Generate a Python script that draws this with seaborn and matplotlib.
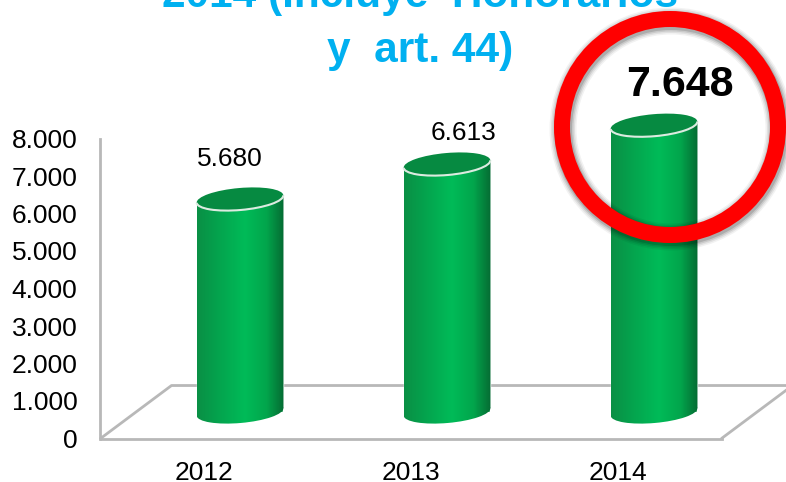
import numpy as np
import matplotlib
matplotlib.use("Agg")
import matplotlib.pyplot as plt
from matplotlib.colors import LinearSegmentedColormap
from matplotlib.patches import Arc, Ellipse, Polygon
import pandas as pd
import seaborn as sns

years = ["2012", "2013", "2014"]
values = [5680, 6613, 7648]
value_labels = ["5.680", "6.613", "7.648"]
y_ticks = [0, 1000, 2000, 3000, 4000, 5000, 6000, 7000, 8000]
y_tick_labels = ["0", "1.000", "2.000", "3.000", "4.000", "5.000", "6.000", "7.000", "8.000"]
title_lines = ["2014 (Incluye  Honorarios", "y  art. 44)"]

sns.set_theme(style="white")
plt.rcParams["font.family"] = ["Liberation Sans", "DejaVu Sans"]

W, H = 786, 482
GREY = "#b8b8b8"
fig = plt.figure(figsize=(W / 100, H / 100), dpi=100)


def pos(left, top, right, bottom):
    return [left / W, 1 - bottom / H, (right - left) / W, (bottom - top) / H]


df = pd.DataFrame({"year": years, "value": values})

# main axes, carries the ticks and the floor
ax = fig.add_axes(pos(100.5, 138.5, 721.5, 438.5))
sns.barplot(data=df, x="year", y="value", ax=ax, alpha=0, width=0.42)
ax.set_xlim(-0.5, 2.5)
ax.set_ylim(0, 8000)
ax.set_yticks(y_ticks, y_tick_labels, fontsize=19, color="black")
ax.set_xticks(range(3), years, fontsize=19, color="black")
ax.set_xlabel("")
ax.set_ylabel("")
ax.tick_params(axis="y", length=0, pad=16.5)
ax.tick_params(axis="x", length=0, pad=16)
sns.despine(ax=ax, top=True, right=True, bottom=False)
ax.spines["left"].set(color=GREY, linewidth=2)
ax.spines["bottom"].set(color=GREY, linewidth=2)

# floor, depth in data units
dx, dy = 0.343, 1413
ax.plot([-0.5, -0.5 + dx, 2.5 + dx], [0, dy, dy], color=GREY, lw=2, clip_on=False, zorder=1)
ax.plot([2.5, 2.5 + dx], [0, dy], color=GREY, lw=2, clip_on=False, zorder=1)

# the columns sit half way into the floor
ax_bars = fig.add_axes(pos(136.5, 138 - 26, 757.5, 412))
ax_bars.patch.set_alpha(0)
sns.barplot(data=df, x="year", y="value", ax=ax_bars, color="#00b050", width=0.42)
ax_bars.set_xlim(-0.5, 2.5)
ax_bars.set_ylim(0, 8000)
ax_bars.set_axis_off()

# overlay in pixels, y pointing down
over = fig.add_axes([0, 0, 1, 1])
over.set_xlim(0, W)
over.set_ylim(H, 0)
over.set_axis_off()
over.patch.set_alpha(0)

cmap = LinearSegmentedColormap.from_list(
    "cyl",
    [(0, "#0a8f45"), (0.2, "#05a04c"), (0.55, "#00bb58"), (0.8, "#02a64c"), (1, "#056c33")],
)
gradient = np.linspace(0, 1, 200).reshape(1, -1)
fig.canvas.draw()

TILT = 5
EH = 22
label_dx = [-10, 17, 26]
label_dy = [-40, -31, -40]
for i, bar in enumerate(ax_bars.patches):
    (x0, y0), (x1, y1) = ax_bars.transData.transform(
        [(bar.get_x(), 0), (bar.get_x() + bar.get_width(), bar.get_height())]
    )
    base, top = H - y0, H - y1
    cx = (x0 + x1) / 2
    w = x1 - x0
    lean = w / 2 * np.tan(np.radians(TILT))
    extent = [x0, x1, base + 14, top - 14]

    # body between the two tilted rims
    img = over.imshow(gradient, cmap=cmap, extent=extent, aspect="auto", zorder=2)
    img.set_clip_path(Polygon(
        [(x0, top + lean), (x1, top - lean), (x1, base - lean), (x0, base + lean)],
        transform=over.transData,
    ))
    img2 = over.imshow(gradient, cmap=cmap, extent=extent, aspect="auto", zorder=2)
    img2.set_clip_path(Ellipse((cx, base), w, EH, angle=-TILT, transform=over.transData))

    over.add_patch(Ellipse((cx, top), w, EH, angle=-TILT, fc="#068a41", ec="none", zorder=3))
    over.add_patch(Arc((cx, top), w, EH, angle=-TILT, theta1=0, theta2=180,
                       ec="#dcebe0", lw=1.5, zorder=4))
    bold = i == 2
    over.text(cx + label_dx[i], top + label_dy[i], value_labels[i],
              fontsize=31 if bold else 19, fontweight="bold" if bold else "normal",
              color="black", ha="center", va="center", zorder=9)
over.set_xlim(0, W)
over.set_ylim(H, 0)

# red ring with a soft shadow
for lw, alpha in [(27, 0.05), (24, 0.07), (21, 0.1), (18, 0.14)]:
    over.add_patch(Ellipse((671, 129), 216, 216, fc="none", ec="black", lw=lw * 0.72, alpha=alpha, zorder=6))
over.add_patch(Ellipse((670, 127), 216, 216, fc="none", ec="#ff0000", lw=16 * 0.72, zorder=7))

over.text(420, 7, title_lines[0], fontsize=30.5, fontweight="bold", color="#00b0f0", ha="center", va="baseline")
over.text(420, 62, title_lines[1], fontsize=30.5, fontweight="bold", color="#00b0f0", ha="center", va="baseline")

fig.savefig("out.png", dpi=100)
